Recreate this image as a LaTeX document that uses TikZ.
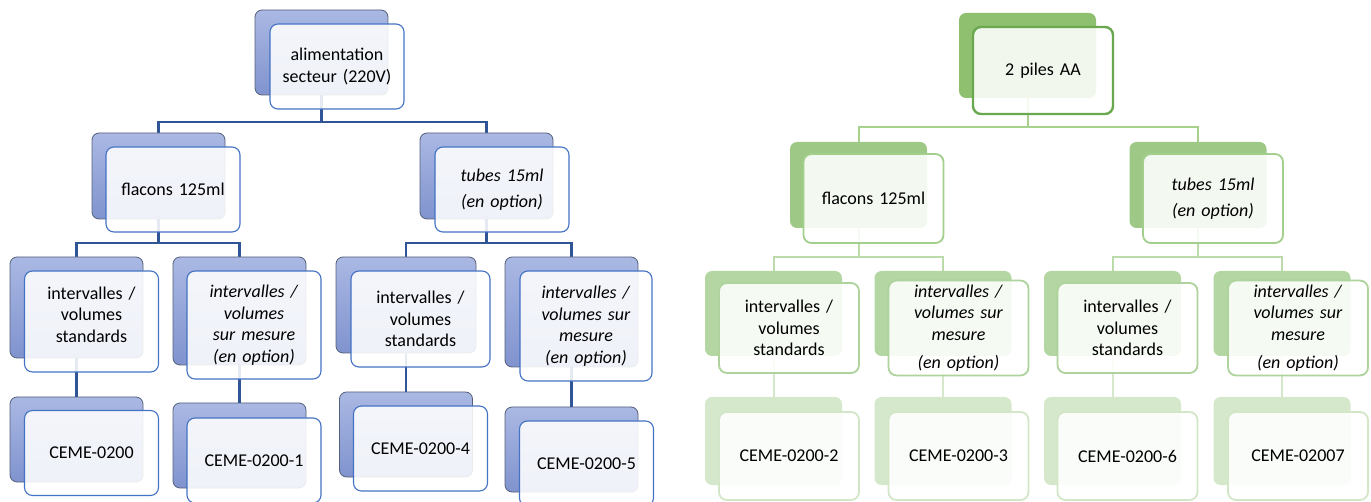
\documentclass[tikz,border=0pt]{standalone}
\usepackage{fontspec}
\setmainfont{Carlito}
\usepackage{tikz}

\definecolor{bluetop}{HTML}{AAB8E3}
\definecolor{bluebot}{HTML}{8093CE}
\definecolor{blueedge}{HTML}{55607A}
\definecolor{bluefront}{HTML}{4472C4}
\definecolor{bluelink}{HTML}{2F5597}
\definecolor{greenA}{HTML}{8FC06F}
\definecolor{greenB}{HTML}{9DC885}
\definecolor{greenC}{HTML}{B4D6A2}
\definecolor{greenD}{HTML}{D5E8CB}
\definecolor{gedgeA}{HTML}{6AA84F}
\definecolor{gedgeB}{HTML}{A3CF8D}
\definecolor{gedgeC}{HTML}{AED39C}
\definecolor{gedgeD}{HTML}{D3E6C8}
\definecolor{glinkA}{HTML}{A9D18E}
\definecolor{glinkB}{HTML}{BBDCAA}
\definecolor{glinkC}{HTML}{D6E8CC}

\tikzset{
    backbox/.style={rectangle, rounded corners=7pt, inner sep=0pt, minimum width=133pt, minimum height=85pt},
    frontbox/.style={rectangle, rounded corners=8pt, fill=white, fill opacity=0.88, text opacity=1, text width=122pt, inner sep=4pt, align=center, minimum width=134pt, minimum height=85pt},
    bback/.style={backbox, draw=blueedge, line width=0.8pt, top color=bluetop, bottom color=bluebot},
    bfront/.style={frontbox, draw=bluefront, line width=1.1pt},
    bline/.style={draw=bluelink, line width=2.2pt},
    gbackA/.style={backbox, fill=greenA, minimum width=137pt},
    gbackB/.style={backbox, fill=greenB, minimum width=137pt},
    gbackC/.style={backbox, fill=greenC, minimum width=137pt},
    gbackD/.style={backbox, fill=greenD, minimum width=137pt},
    gfrontA/.style={frontbox, draw=gedgeA, line width=2.4pt, minimum width=140pt},
    gfrontB/.style={frontbox, draw=gedgeB, line width=1.8pt, minimum width=140pt},
    gfrontC/.style={frontbox, draw=gedgeC, line width=1.8pt, minimum width=140pt},
    gfrontD/.style={frontbox, draw=gedgeD, line width=1.8pt, minimum width=140pt},
}

\begin{document}
\begin{tikzpicture}[x=1pt, y=-1pt, font=\fontsize{18}{21.5}\selectfont]
    \useasboundingbox (0,0) rectangle (1371,502);
    \clip (0,0) rectangle (1371,502);

    % secteur
    \coordinate (sjoin) at (321.5,122);
    \coordinate (fjoin) at (158.5,243);
    \coordinate (tjoin) at (486.5,243);
    \draw[bline] (321.5,95) -- (sjoin);
    \draw[bline] (158.5,133) |- (sjoin) -| (486.5,133);
    \draw[bline] (158.5,219) -- (fjoin);
    \draw[bline] (76.5,257) |- (fjoin) -| (239.5,257);
    \draw[bline] (486.5,219) -- (tjoin);
    \draw[bline] (406,257) |- (tjoin) -| (571.5,257);

    \node[bback] (secteurb) at (321.5,52.5) {};
    \node[bfront] (secteur) at (337,66.5) {alimentation\\secteur (220V)};
    \node[bback, minimum height=86pt] (flaconsb) at (158.5,176) {};
    \node[bfront] (flacons) at (173,189.5) {flacons 125ml};
    \node[bback, minimum height=86pt] (tubesb) at (486.5,176) {};
    \node[bfront] (tubes) at (502,189.5) {\textit{tubes 15ml}\\[5pt]\textit{(en option)}};

    \node[bback, minimum height=101pt] (stdab) at (76.5,307.5) {};
    \node[bback, minimum height=108pt] (mesab) at (239.5,311) {};
    \node[bback, minimum height=96pt, minimum width=140pt] (stdbb) at (406,305) {};
    \node[bback, minimum height=110pt] (mesbb) at (571.5,312) {};
    \node[bback] (ceme0b) at (76.5,439.5) {};
    \node[bback] (ceme1b) at (239.5,445.5) {};
    \node[bback] (ceme4b) at (406,434.5) {};
    \node[bback] (ceme5b) at (571.5,449.5) {};

    \draw[bline] (stdab.south) -- (ceme0b.north);
    \draw[bline] (mesab.south) -- (ceme1b.north);
    \draw[bline] (stdbb.south) -- (ceme4b.north);
    \draw[bline] (mesbb.south) -- (ceme5b.north);

    \node[bfront, minimum height=101pt] (stda) at (91.5,321.5) {intervalles /\\volumes\\standards\\[-8pt]\mbox{}};
    \node[bfront, minimum height=108pt] (mesa) at (254,325) {\textit{intervalles /}\\\textit{volumes}\\\textit{sur mesure}\\\textit{(en option)}};
    \node[bfront, minimum height=96pt, minimum width=139pt] (stdb) at (420.5,319) {intervalles /\\volumes\\standards};
    \node[bfront, minimum height=110pt, minimum width=132pt] (mesb) at (586,326) {\textit{intervalles /}\\\textit{volumes sur}\\\textit{mesure}\\\textit{(en option)}};
    \node[bfront] (ceme0) at (91.5,453) {CEME-0200};
    \node[bfront] (ceme1) at (254,460.5) {CEME-0200-1};
    \node[bfront] (ceme4) at (420.5,448.5) {CEME-0200-4};
    \node[bfront] (ceme5) at (586.5,463.5) {CEME-0200-5};

    % piles
    \coordinate (pjoin) at (1027.5,127);
    \coordinate (gfjoin) at (858.5,257);
    \coordinate (gtjoin) at (1198,257);
    \draw[draw=glinkA, line width=2pt] (1027.5,98) -- (pjoin);
    \draw[draw=glinkA, line width=2pt] (858.5,142) |- (pjoin) -| (1198,142);
    \draw[draw=glinkB, line width=2pt] (858.5,228) -- (gfjoin);
    \draw[draw=glinkB, line width=2pt] (773.5,271) |- (gfjoin) -| (943,271);
    \draw[draw=glinkB, line width=2pt] (1198,228) -- (gtjoin);
    \draw[draw=glinkB, line width=2pt] (1112.5,271) |- (gtjoin) -| (1282,271);

    \node[gbackA] (pilesb) at (1027.5,55.5) {};
    \node[gfrontA, minimum height=87pt] (piles) at (1043,70.5) {2 piles AA};
    \node[gbackB, minimum height=86pt] (gflaconsb) at (858.5,185) {};
    \node[gfrontB, minimum height=89pt] (gflacons) at (873.5,198.5) {flacons 125ml};
    \node[gbackB, minimum height=86pt] (gtubesb) at (1198,185) {};
    \node[gfrontB, minimum height=89pt] (gtubes) at (1213,198.5) {\textit{tubes 15ml}\\[5pt]\textit{(en option)}};

    \node[gbackC] (gstdab) at (773.5,313.5) {};
    \node[gbackC] (gmesab) at (943,313.5) {};
    \node[gbackC] (gstdbb) at (1112.5,313.5) {};
    \node[gbackC] (gmesbb) at (1282,313.5) {};
    \node[gbackD, minimum height=88pt] (ceme2b) at (773.5,441) {};
    \node[gbackD, minimum height=88pt] (ceme3b) at (943,441) {};
    \node[gbackD, minimum height=88pt] (ceme6b) at (1112.5,441) {};
    \node[gbackD, minimum height=88pt] (ceme7b) at (1282,441) {};

    \draw[draw=glinkC, line width=2pt] (gstdab.south) -- (ceme2b.north);
    \draw[draw=glinkC, line width=2pt] (gmesab.south) -- (ceme3b.north);
    \draw[draw=glinkC, line width=2pt] (gstdbb.south) -- (ceme6b.north);
    \draw[draw=glinkC, line width=2pt] (gmesbb.south) -- (ceme7b.north);

    \node[gfrontC, minimum height=90pt] (gstda) at (789,328) {intervalles /\\volumes\\standards};
    \node[gfrontC, minimum height=90pt] (gmesa) at (958.5,328) {\textit{intervalles /}\\\textit{volumes sur}\\\textit{mesure}\\[7pt]\textit{(en option)}};
    \node[gfrontC, minimum height=90pt] (gstdb) at (1127.5,328) {intervalles /\\volumes\\standards};
    \node[gfrontC, minimum height=90pt] (gmesb) at (1298,328) {\textit{intervalles /}\\\textit{volumes sur}\\\textit{mesure}\\[7pt]\textit{(en option)}};
    \node[gfrontD, minimum height=88pt] (ceme2) at (789,456) {CEME-0200-2};
    \node[gfrontD, minimum height=88pt] (ceme3) at (958.5,456) {CEME-0200-3};
    \node[gfrontD, minimum height=88pt] (ceme6) at (1127.5,456) {CEME-0200-6};
    \node[gfrontD, minimum height=88pt] (ceme7) at (1298,456) {CEME-02007};
\end{tikzpicture}
\end{document}
